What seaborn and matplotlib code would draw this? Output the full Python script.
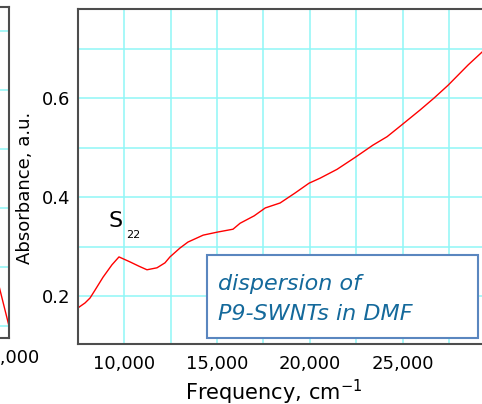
import matplotlib
matplotlib.use("Agg")
import matplotlib.pyplot as plt
import matplotlib.ticker as mticker
from matplotlib.patches import Rectangle
import seaborn as sns
import pandas as pd

# ---- data ----
freq = [7500, 7880, 8150, 8420, 8850, 9330, 9710, 10300, 10800, 11220, 11760,
        12190, 12460, 13000, 13430, 14250, 15000, 15860, 16240, 17000, 17600,
        18400, 19200, 19960, 20550, 21470, 22440, 23410, 24170, 24900, 25950,
        26700, 27460, 28540, 29290, 29700]
absorb = [0.176, 0.186, 0.196, 0.212, 0.238, 0.263, 0.279, 0.269, 0.260, 0.253,
          0.257, 0.267, 0.279, 0.297, 0.309, 0.323, 0.329, 0.335, 0.347, 0.362,
          0.378, 0.388, 0.408, 0.428, 0.438, 0.456, 0.480, 0.505, 0.522, 0.544,
          0.576, 0.600, 0.626, 0.667, 0.693, 0.705]

left_freq = [29300, 30000]
left_abs = [0.088, 0.0]

x_major = 5000
x_minor = 2500
y_major = 0.2
y_minor = 0.1

xlabel = "Frequency, cm$^{-1}$"
ylabel = "Absorbance, a.u."
peak_label = "S"
peak_sub = "22"
note_lines = ["dispersion of", "P9-SWNTs in DMF"]

df = pd.DataFrame({"freq": freq, "abs": absorb})
df_left = pd.DataFrame({"freq": left_freq, "abs": left_abs})

sns.set_style("white")
plt.rcParams["font.family"] = ["DejaVu Sans"]
plt.rcParams["mathtext.fontset"] = "dejavusans"
plt.rcParams["text.color"] = "black"
plt.rcParams["axes.labelcolor"] = "black"
plt.rcParams["xtick.color"] = "black"
plt.rcParams["ytick.color"] = "black"

W, H = 482, 404
fig = plt.figure(figsize=(W / 100, H / 100), dpi=100)


def fx(px):
    return px / W


def fy(py):
    return 1 - py / H


GRID = "#8ff7f7"
SPINE = "#4d4d4d"

# ---- partial left panel ----
ax0 = fig.add_axes([fx(-200), fy(338), fx(209), (338 - 7) / H])
sns.lineplot(data=df_left, x="freq", y="abs", ax=ax0, color="red", lw=1.0)
ax0.set_xlim(30000 - 209 * 53.94, 30000)
ax0.set_ylim(-0.0203, 0.5407)
ax0.xaxis.set_major_locator(mticker.MultipleLocator(x_major))
ax0.xaxis.set_minor_locator(mticker.MultipleLocator(x_minor))
ax0.yaxis.set_major_locator(mticker.MultipleLocator(0.1))
ax0.xaxis.set_major_formatter(mticker.FuncFormatter(lambda v, p: f"{int(v):,}"))
ax0.grid(True, which="both", color=GRID, lw=1.1)
ax0.set_axisbelow(True)
for s in ax0.spines.values():
    s.set_color(SPINE)
    s.set_linewidth(1.5)
ax0.tick_params(axis="x", which="both", direction="in", length=0, labelsize=13,
                pad=8, labelcolor="black")
ax0.tick_params(axis="y", which="both", length=0, labelsize=13)
ax0.set_xlabel("")
ax0.set_ylabel("")

# ---- main panel ----
ax = fig.add_axes([fx(78), fy(344), 415 / W, (344 - 9) / H])
sns.lineplot(data=df, x="freq", y="abs", ax=ax, color="red", lw=1.0)
ax.set_xlim(7500, 29880)
ax.set_ylim(0.103, 0.78)
ax.xaxis.set_major_locator(mticker.MultipleLocator(x_major))
ax.xaxis.set_minor_locator(mticker.MultipleLocator(x_minor))
ax.yaxis.set_major_locator(mticker.MultipleLocator(y_major))
ax.yaxis.set_minor_locator(mticker.MultipleLocator(y_minor))
ax.xaxis.set_major_formatter(mticker.FuncFormatter(lambda v, p: f"{int(v):,}"))
ax.yaxis.set_major_formatter(mticker.FormatStrFormatter("%.1f"))
ax.grid(True, which="both", color=GRID, lw=1.1)
ax.set_axisbelow(True)
for s in ax.spines.values():
    s.set_color(SPINE)
    s.set_linewidth(1.5)
ax.spines["right"].set_visible(False)
ax.tick_params(axis="both", which="both", direction="in", length=4,
               width=1.2, color=SPINE, labelsize=13, labelcolor="black")
ax.tick_params(axis="x", which="both", pad=8, top=False)
ax.tick_params(axis="y", which="both", pad=5.5, right=False)

ax.set_xlabel(xlabel, fontsize=15, color="black")
ax.xaxis.set_label_coords((274 - 78) / 415, (344 - 400) / 335)
ax.xaxis.label.set_va("baseline")
ax.set_ylabel(ylabel, fontsize=13, color="black")
ax.yaxis.set_label_coords((25 - 78) / 415, (344 - 188) / 335)
ax.yaxis.label.set_va("center")

# peak label
fig.text(fx(116), fy(221), peak_label, fontsize=16, ha="center", va="center",
         color="black")
fig.text(fx(133.5), fy(235.5), peak_sub, fontsize=8, ha="center", va="center",
         color="black")

# annotation box
box = Rectangle((fx(207), fy(338)), fx(478) - fx(207), fy(255) - fy(338),
                transform=fig.transFigure, facecolor="white",
                edgecolor="#5a86bf", lw=1.5, zorder=5)
fig.add_artist(box)
note_color = "#14699b"
fig.text(fx(218), fy(290), note_lines[0], fontsize=16, style="italic",
         color=note_color, ha="left", va="baseline", zorder=6)
fig.text(fx(218), fy(320), note_lines[1], fontsize=16, style="italic",
         color=note_color, ha="left", va="baseline", zorder=6)

fig.savefig("out.png", dpi=100)
